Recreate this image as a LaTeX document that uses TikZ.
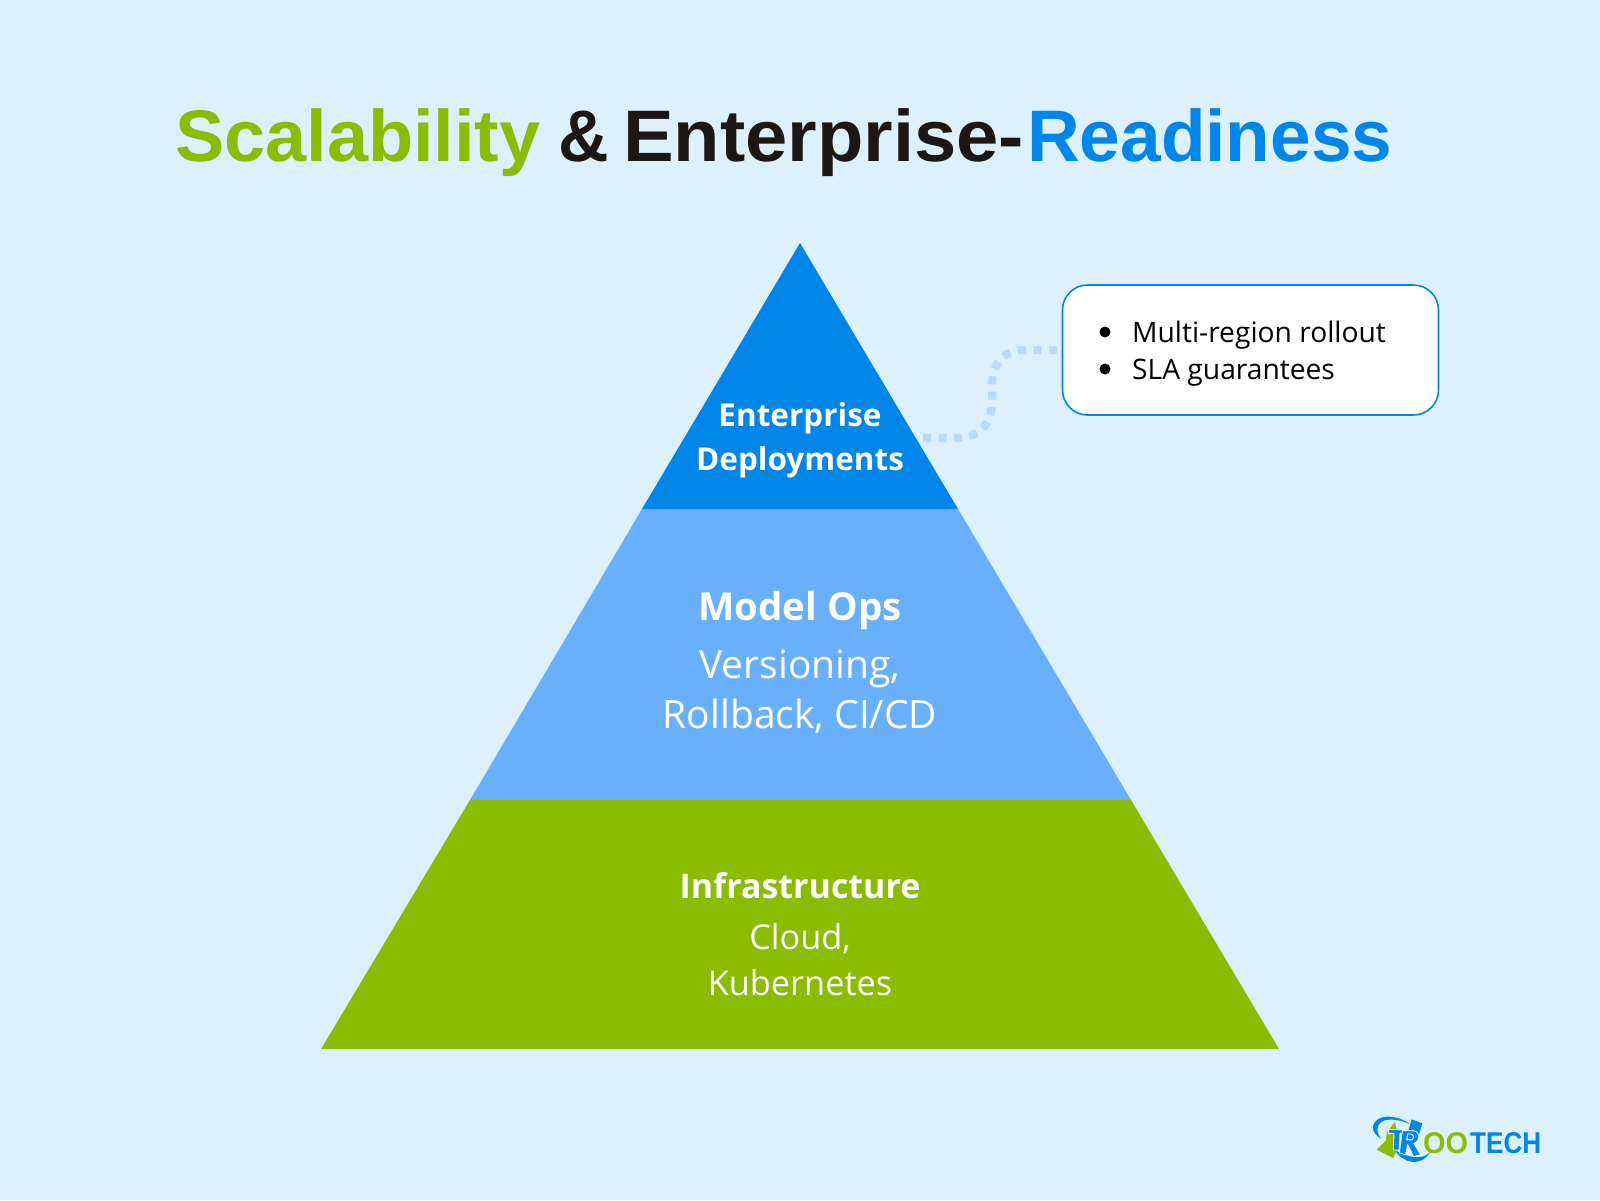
\documentclass[tikz,border=0pt]{standalone}
\usepackage{fontspec}
\setmainfont{Open Sans}
\newfontfamily\titlefont{Liberation Sans}
\definecolor{bgc}{HTML}{DCF0FF}
\definecolor{greenc}{HTML}{8ABD00}
\definecolor{blued}{HTML}{0085E8}
\definecolor{bluem}{HTML}{69B0FC}
\definecolor{dotc}{HTML}{B8DAFC}
\definecolor{inkc}{HTML}{1E1612}
\tikzset{
  tier/.style={draw=none},
  head/.style={text=white,align=center,inner sep=0},
  sub/.style={text=white,align=center,inner sep=0},
  titlepart/.style={font=\titlefont\fontsize{73}{73}\selectfont\bfseries,inner sep=0,anchor=base west},
  dots/.style={dotc,line width=8pt,dash pattern=on 8pt off 7.5pt},
  bullettext/.style={font=\fontsize{28.2}{28.2}\selectfont,inner sep=0,anchor=base west},
  logotext/.style={font=\titlefont\fontsize{30}{30}\selectfont\bfseries,inner sep=0,anchor=base west},
  logoletter/.style={fill=blued,draw=white,line width=.9pt,line join=round},
}
\begin{document}
\begin{tikzpicture}[x=1pt,y=-1pt]
\useasboundingbox (0,0) rectangle (1600,1200);
\fill[bgc] (0,0) rectangle (1600,1200);
% title
\node[titlepart,text=greenc,xscale=1.012] (t1) at (175,161.5) {Scalability};
\node[titlepart,text=inkc,xscale=.96] (t2) at (558,161.5) {\&};
\node[titlepart,text=inkc,xscale=1.04] (t3) at (623,161.5) {Enterprise-};
\node[titlepart,text=blued] (t4) at (1027,161.5) {Readiness};
% pyramid
\fill[tier,greenc] (470,800) -- (1131,800) -- (1279,1049) -- (321,1049) -- cycle;
\fill[tier,bluem] (642,509) -- (958,509) -- (1131,800) -- (470,800) -- cycle;
\fill[tier,blued] (800,243) -- (958,509) -- (642,509) -- cycle;
% labels
\node[head,font=\fontsize{31.5}{44}\selectfont\bfseries] (ent) at (800,440) {Enterprise\\Deployments};
\node[head,font=\fontsize{38.5}{38.5}\selectfont\bfseries] (ops) at (800,610) {Model Ops};
\node[sub,font=\fontsize{39}{50}\selectfont] (opsb) at (800,692) {Versioning,\\Rollback, CI/CD};
\node[head,font=\fontsize{34}{34}\selectfont\bfseries] (inf) at (800,886) {Infrastructure};
\node[sub,font=\fontsize{34.3}{46}\selectfont] (infb) at (800,960) {Cloud,\\Kubernetes};
% callout
\coordinate (dotstart) at (923,438);
\node[draw=blued,line width=1.6pt,fill=white,rounded corners=25pt,minimum width=376pt,minimum height=130pt,inner sep=0] (box) at (1250.5,350) {};
\draw[dots] (dotstart) -- (953,438) .. controls (980,438) and (992,425) .. (992,400) -- (992,385) .. controls (992,362) and (1005,350) .. (1025,350) -- (box.west);
\fill[black] (1105,332) circle (5.5pt) (1105,369) circle (5.5pt);
\node[bullettext] (b1) at (1132,342) {Multi-region rollout};
\node[bullettext] (b2) at (1132,379) {SLA guarantees};
% logo mark
\begin{scope}[shift={(1365,1108)},x=.3333pt,y=-.3333pt]
\fill[blued] (48,92) .. controls (20,75) and (15,50) .. (40,33) .. controls (65,18) and (110,28) .. (138,50) .. controls (110,36) and (70,28) .. (48,42) .. controls (32,55) and (35,75) .. (48,92) -- cycle;
\fill[blued] (88,125) .. controls (115,168) and (170,178) .. (197,130) .. controls (175,158) and (130,150) .. (88,125) -- cycle;
\fill[blued] (140,34) -- (172,46) -- (156,100) -- (124,90) -- cycle;
\fill[greenc] (35,125) -- (62,98) -- (66,72) -- (90,42) -- (102,108) -- (85,150) -- cycle;
\fill[logoletter] (70,65) -- (118,65) -- (118,76) -- (105,76) -- (103,126) -- (85,126) -- (87,76) -- (70,76) -- cycle;
\fill[logoletter,even odd rule] (112,68) -- (145,68) .. controls (167,70) and (167,100) .. (147,106) -- (167,140) -- (146,146) -- (128,110) -- (122,140) -- (103,135) -- cycle (128,78) -- (125,96) -- (138,96) .. controls (148,94) and (148,80) .. (138,78) -- cycle;
\end{scope}
\node[logotext,text=greenc,xscale=.96] (oo) at (1423,1153) {OO};
\node[logotext,text=blued,xscale=.87] (tech) at (1470,1153) {TECH};
\end{tikzpicture}
\end{document}
